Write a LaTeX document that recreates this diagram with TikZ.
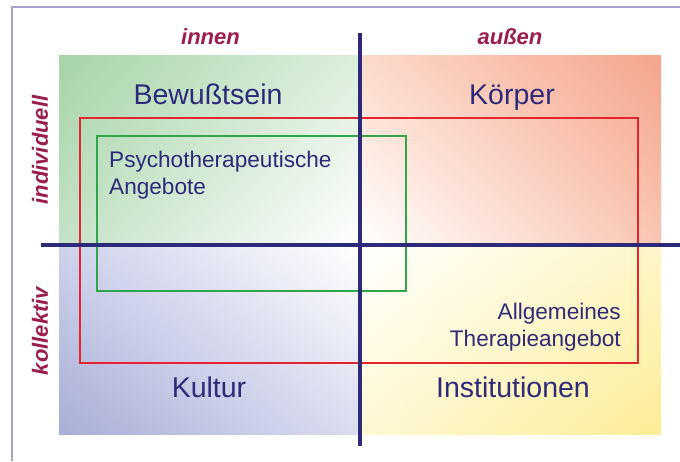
\documentclass[tikz,border=0pt]{standalone}
\usepackage{fontspec}
\setmainfont{Liberation Sans}
\usetikzlibrary{shadings}
\definecolor{axisnavy}{HTML}{2D2A7A}
\definecolor{labelmaroon}{HTML}{9A1D4E}
\definecolor{framelilac}{HTML}{A7A3C8}
\definecolor{boxred}{HTML}{E2262F}
\definecolor{boxgreen}{HTML}{2FA64A}
% quadrant shading colours
\definecolor{grA}{RGB}{166,212,168}
\definecolor{grB}{RGB}{220,238,220}
\definecolor{grC}{RGB}{196,226,198}
\definecolor{saA}{RGB}{245,164,138}
\definecolor{saB}{RGB}{252,218,202}
\definecolor{saC}{RGB}{249,198,178}
\definecolor{blA}{RGB}{168,174,214}
\definecolor{blB}{RGB}{206,210,236}
\definecolor{blC}{RGB}{218,221,240}
\definecolor{yeA}{RGB}{251,237,150}
\definecolor{yeB}{RGB}{254,246,200}
\definecolor{yeC}{RGB}{255,248,212}
\tikzset{
  quadlabel/.style={text=axisnavy, font=\fontsize{28.5}{30}\selectfont, inner sep=0pt, anchor=base},
  boxlabel/.style={text=axisnavy, font=\fontsize{22.6}{26.5}\selectfont, inner sep=0pt},
  axislabel/.style={text=labelmaroon, font=\fontsize{22}{24}\selectfont\bfseries\itshape, inner sep=0pt},
  axisline/.style={draw=axisnavy, line width=3.3pt},
  offerbox/.style={line width=2.8pt},
}
\begin{document}
\begin{tikzpicture}[x=1pt,y=-1pt]
\useasboundingbox (0,0) rectangle (680,461);

% open frame at the top and left
\draw[framelilac, line width=2.4pt] (12,461) -- (12,7) -- (680,7);

% shaded quadrants, strongest colour in the outer corner
\shade[shading=bilinear interpolation,
       upper left=grA, upper right=grB, lower left=grC, lower right=white]
  (59,55) rectangle (360,245);
\shade[shading=bilinear interpolation,
       upper left=saB, upper right=saA, lower left=white, lower right=saC]
  (360,55) rectangle (661,245);
\shade[shading=bilinear interpolation,
       upper left=blB, upper right=white, lower left=blA, lower right=blC]
  (59,245) rectangle (360,434);
\shade[shading=bilinear interpolation,
       upper left=white, upper right=yeB, lower left=yeC, lower right=yeA]
  (360,245) rectangle (661,434);

% offer boxes
\draw[offerbox, boxred] (80,118) rectangle (638,363);
\draw[offerbox, boxgreen] (97,136) rectangle (406,291);

% axes
\coordinate (vtop) at (360,33);
\coordinate (vbot) at (360,446);
\coordinate (hleft) at (41,245);
\coordinate (hright) at (680,245);
\draw[axisline] (vtop) -- (vbot);
\draw[axisline] (hleft) -- (hright);

% axis labels
\node[axislabel, anchor=base] (innen) at (210.5,44) {innen};
\node[axislabel, anchor=base] (aussen) at (510,44) {außen};
\node[axislabel, rotate=90] (indiv) at (40,150) {individuell};
\node[axislabel, rotate=90] (koll) at (40,331) {kollektiv};

% quadrant names
\node[quadlabel] (bew) at (208,104) {Bewußtsein};
\node[quadlabel] (koerper) at (512,104) {Körper};
\node[quadlabel] (kultur) at (209,397) {Kultur};
\node[quadlabel] (inst) at (513,397) {Institutionen};

% box captions (base anchor sits on the last line)
\node[boxlabel, anchor=base west, align=left] (psy) at (109,194)
  {Psychotherapeutische\\Angebote};
\node[boxlabel, anchor=base east, align=right] (allg) at (621,346)
  {Allgemeines\\Therapieangebot};
\end{tikzpicture}
\end{document}
